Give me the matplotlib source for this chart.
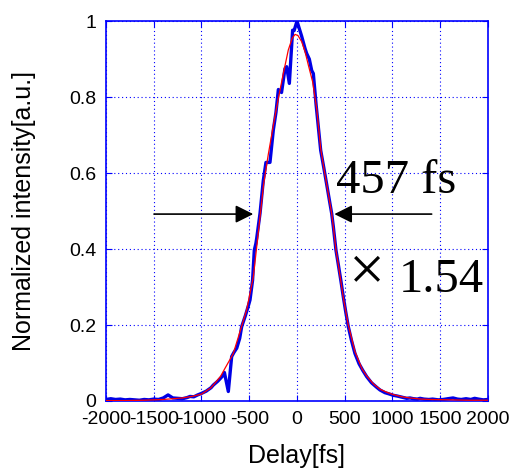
import numpy as np
import matplotlib
matplotlib.use('Agg')
import matplotlib.pyplot as plt

# measured trace (delay in fs, normalized intensity)
delay_meas = [-2000, -1950, -1900, -1850, -1800, -1750, -1700, -1650, -1600, -1550,
              -1500, -1450, -1400, -1350, -1300, -1250, -1200, -1150, -1120, -1080,
              -1040, -1000, -950, -900, -876, -830, -800, -772, -760, -719,
              -684, -660, -631, -600, -579, -540, -510, -492, -465, -447,
              -430, -422, -387, -353, -325, -283, -248, -220, -195, -162,
              -126, -108, -80, -46, -30, 0, 49, 84, 101, 129,
              154, 171, 200, 248, 280, 311, 345, 363, 380, 408,
              432, 460, 485, 510, 537, 570, 607, 650, 690, 730,
              780, 830, 869, 920, 960, 1008, 1050, 1100, 1148, 1183,
              1220, 1260, 1288, 1330, 1380, 1420, 1480, 1530, 1580, 1634,
              1680, 1720, 1770, 1820, 1860, 1900, 1950, 2000]
int_meas = [0.004, 0.006, 0.004, 0.005, 0.003, 0.004, 0.003, 0.002, 0.004, 0.003,
            0.005, 0.004, 0.008, 0.016, 0.008, 0.007, 0.006, 0.009, 0.012, 0.011,
            0.016, 0.020, 0.026, 0.035, 0.042, 0.052, 0.060, 0.068, 0.075, 0.025,
            0.117, 0.128, 0.139, 0.165, 0.196, 0.225, 0.250, 0.266, 0.318, 0.397,
            0.415, 0.428, 0.494, 0.580, 0.628, 0.628, 0.713, 0.760, 0.820, 0.812,
            0.875, 0.880, 0.836, 0.976, 0.975, 1.000, 0.960, 0.928, 0.915, 0.900,
            0.870, 0.862, 0.780, 0.660, 0.615, 0.570, 0.520, 0.494, 0.460, 0.397,
            0.360, 0.316, 0.274, 0.235, 0.196, 0.160, 0.125, 0.098, 0.080, 0.064,
            0.048, 0.037, 0.029, 0.022, 0.019, 0.015, 0.013, 0.010, 0.007, 0.008,
            0.006, 0.005, 0.007, 0.005, 0.004, 0.005, 0.003, 0.004, 0.006, 0.008,
            0.005, 0.004, 0.006, 0.004, 0.007, 0.005, 0.003, 0.004]

# fitted curve
delay_fit = [-2000, -1800, -1600, -1400, -1300, -1200, -1100, -1000, -900, -800,
             -754, -700, -667, -600, -527, -457, -400, -350, -300, -241,
             -195, -143, -91, -50, -20, 10, 49, 84, 119, 164,
             206, 248, 280, 311, 345, 363, 380, 408, 432, 485, 537, 607,
             680, 730, 800, 869, 950, 1008, 1100, 1183, 1300, 1400,
             1600, 1800, 2000]
int_fit = [0.001, 0.001, 0.002, 0.004, 0.006, 0.008, 0.012, 0.018, 0.035, 0.065,
           0.086, 0.110, 0.125, 0.180, 0.240, 0.327, 0.455, 0.570, 0.650, 0.735,
           0.797, 0.862, 0.924, 0.955, 0.965, 0.962, 0.946, 0.920, 0.884, 0.840,
           0.770, 0.665, 0.615, 0.570, 0.520, 0.494, 0.460, 0.397, 0.360, 0.272, 0.200, 0.130,
           0.085, 0.066, 0.045, 0.031, 0.022, 0.017, 0.011, 0.008, 0.005, 0.004,
           0.003, 0.002, 0.002]

xticks = [-2000, -1500, -1000, -500, 0, 500, 1000, 1500, 2000]
yticks = [0, 0.2, 0.4, 0.6, 0.8, 1]
ytick_labels = ['0', '0.2', '0.4', '0.6', '0.8', '1']

plt.rcParams['font.family'] = ['Liberation Sans', 'DejaVu Sans']

fig = plt.figure(figsize=(5.11, 4.69), dpi=100)
ax = fig.add_axes([0.2074, 0.145, 0.7476, 0.810])

ax.plot(delay_meas, int_meas, color='#0000e6', linewidth=2.4, zorder=3)
ax.plot(delay_fit, int_fit, color='red', linewidth=0.9, zorder=4)

ax.set_xlim(-2000, 2000)
ax.set_ylim(0, 1)
ax.set_xticks(xticks)
ax.set_xticklabels([str(t) for t in xticks])
ax.set_yticks(yticks)
ax.set_yticklabels(ytick_labels)
ax.tick_params(direction='in', top=True, right=True, color='blue',
               length=4, labelsize=14, pad=7)
for sp in ax.spines.values():
    sp.set_color('blue')
    sp.set_linewidth(1.2)
ax.grid(True, color='blue', linestyle=(0, (1, 2.5)), linewidth=0.8)

ax.set_xlabel('Delay[fs]', fontsize=18, labelpad=12)
ax.set_ylabel('Normalized intensity[a.u.]', fontsize=18, labelpad=24)

# FWHM arrows
arrow_kw = dict(arrowstyle='-|>,head_length=0.4,head_width=0.2', color='black',
                lw=1.2, shrinkA=0, shrinkB=0, mutation_scale=27)
ax.annotate('', xy=(-458, 0.492), xytext=(-1497, 0.492), arrowprops=arrow_kw)
ax.annotate('', xy=(391, 0.492), xytext=(1410, 0.492), arrowprops=arrow_kw)

ax.text(408, 0.548, '457 fs', fontsize=35, family='Liberation Serif', va='baseline')
ax.text(733, 0.334, '\u00d7', fontsize=46, family='Liberation Serif',
        ha='center', va='center')
ax.text(1068, 0.288, '1.54', fontsize=35, family='Liberation Serif', va='baseline')

fig.savefig('out.png', dpi=100)
